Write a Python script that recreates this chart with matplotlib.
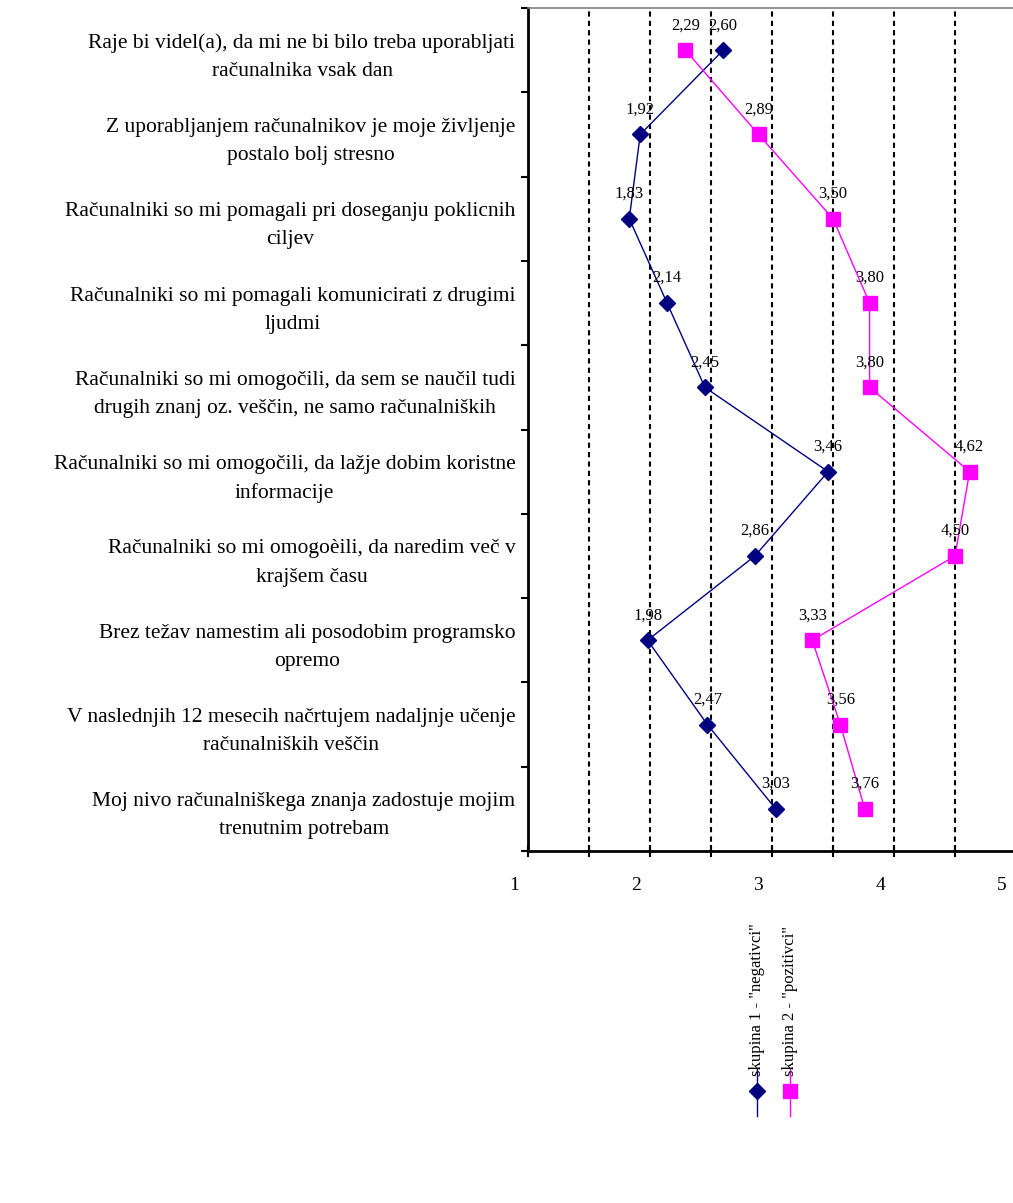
import matplotlib

matplotlib.use("Agg")
import matplotlib.pyplot as plt
import matplotlib.transforms as mtransforms
from matplotlib.lines import Line2D

# statements (top to bottom)
categories = [
    "Raje bi videl(a), da mi ne bi bilo treba uporabljati\nračunalnika vsak dan",
    "Z uporabljanjem računalnikov je moje življenje\npostalo bolj stresno",
    "Računalniki so mi pomagali pri doseganju poklicnih\nciljev",
    "Računalniki so mi pomagali komunicirati z drugimi\nljudmi",
    "Računalniki so mi omogočili, da sem se naučil tudi\ndrugih znanj oz. veščin, ne samo računalniških",
    "Računalniki so mi omogočili, da lažje dobim koristne\ninformacije",
    "Računalniki so mi omogoèili, da naredim več v\nkrajšem času",
    "Brez težav namestim ali posodobim programsko\nopremo",
    "V naslednjih 12 mesecih načrtujem nadaljnje učenje\nračunalniških veščin",
    "Moj nivo računalniškega znanja zadostuje mojim\ntrenutnim potrebam",
]
negativci = [2.60, 1.92, 1.83, 2.14, 2.45, 3.46, 2.86, 1.98, 2.47, 3.03]
pozitivci = [2.29, 2.89, 3.50, 3.80, 3.80, 4.62, 4.50, 3.33, 3.56, 3.76]
series_labels = ['skupina 1 - "negativci"', 'skupina 2 - "pozitivci"']
x_ticks = [1, 2, 3, 4, 5]

NAVY = "#000080"
MAGENTA = "#FF00FF"
plt.rcParams["font.family"] = ["Liberation Serif", "DejaVu Serif"]

W, H = 1013, 1203
fig = plt.figure(figsize=(W / 100, H / 100), dpi=100)
ax = fig.add_axes([528 / W, 1 - 851 / H, 488 / W, 843 / H])

ypos = list(range(len(categories)))
ax.plot(negativci, ypos, color=NAVY, lw=1, marker="D", ms=8, zorder=3)
ax.plot(pozitivci, ypos, color=MAGENTA, lw=1, marker="s", ms=10, zorder=3)

for vals in (negativci, pozitivci):
    for y, v in zip(ypos, vals):
        ax.annotate(f"{v:.2f}".replace(".", ","), (v, y), xytext=(0, 18),
                    textcoords="offset points", ha="center", va="center",
                    fontsize=12, zorder=4)

ax.set_xlim(1, 5)
ax.set_ylim(len(categories) - 0.5, -0.5)

ax.set_xticks(x_ticks)
ax.set_xticklabels([str(t) for t in x_ticks], fontsize=14)
ax.set_xticks([t + 0.5 for t in x_ticks[:-1]], minor=True)
ax.tick_params(axis="x", which="both", direction="inout", length=9, width=1.5, pad=14)
shift = mtransforms.ScaledTranslation(-14 / 100, 0, fig.dpi_scale_trans)
for lab in ax.get_xticklabels():
    lab.set_transform(lab.get_transform() + shift)

ax.set_yticks(ypos)
ax.set_yticklabels(categories, fontsize=15.5)
for lab in ax.get_yticklabels():
    lab.set_multialignment("center")
    lab.set_linespacing(1.65)
ax.set_yticks([y - 0.5 for y in ypos] + [ypos[-1] + 0.5], minor=True)
ax.tick_params(axis="y", which="major", length=0, pad=9)
ax.tick_params(axis="y", which="minor", direction="out", length=5, width=1.5)

ax.grid(axis="x", which="both", color="black", lw=1.5, ls=(0, (2.5, 2)))
ax.set_axisbelow(True)

ax.spines["left"].set_linewidth(2)
ax.spines["bottom"].set_linewidth(2)
ax.spines["top"].set_color("#808080")
ax.spines["top"].set_linewidth(1.2)
ax.spines["right"].set_visible(False)

# rotated legend under the chart
for (xc, col, mk, ms), label in zip(
    [(757, NAVY, "D", 8), (790, MAGENTA, "s", 10)], series_labels
):
    fig.text(xc / W, 1 - 1076 / H, label, rotation=90, ha="center", va="bottom",
             fontsize=12)
    fig.add_artist(Line2D([xc / W, xc / W], [1 - 1068 / H, 1 - 1116 / H],
                          color=col, lw=1, transform=fig.transFigure))
    fig.add_artist(Line2D([xc / W], [1 - 1091 / H], color=col, marker=mk, ms=ms,
                          transform=fig.transFigure))

fig.savefig("out.png", dpi=100)
